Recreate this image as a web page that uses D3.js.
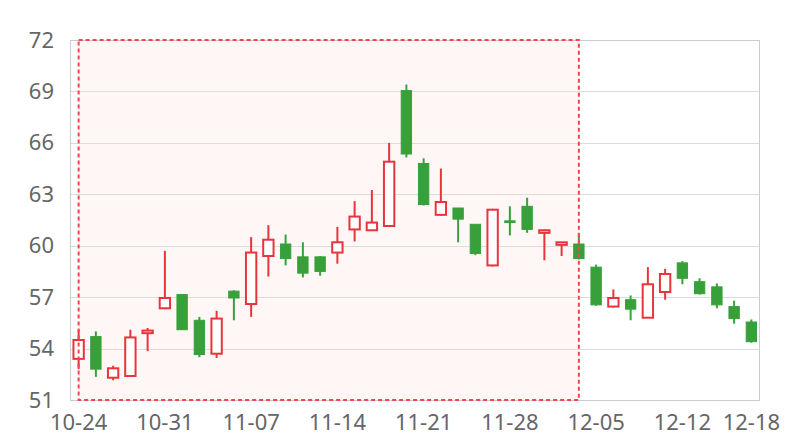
<!DOCTYPE html>
<html>
<head>
<meta charset="utf-8">
<script src="https://cdn.jsdelivr.net/npm/d3@7"></script>
<style>
  html, body { margin: 0; padding: 0; background: #fff; }
  svg { display: block; }
</style>
</head>
<body>
<svg id="chart" width="800" height="440"></svg>
<script>
const dates = ["10-24","10-25","10-26","10-27","10-28",
  "10-31","11-01","11-02","11-03","11-04",
  "11-07","11-08","11-09","11-10","11-11",
  "11-14","11-15","11-16","11-17","11-18",
  "11-21","11-22","11-23","11-24","11-25",
  "11-28","11-29","11-30","12-01","12-02",
  "12-05","12-06","12-07","12-08","12-09",
  "12-12","12-13","12-14","12-15","12-18"];
const opens  = [53.4,54.7,52.3,52.4,54.9,56.35,57.15,55.65,53.7,57.35,
  56.6,59.4,60.1,59.35,59.35,59.6,60.95,60.9,61.15,69.05,
  64.8,61.8,62.2,61.25,58.85,61.45,62.3,60.75,60.05,60.1,
  58.75,56.45,56.85,55.8,57.3,59.0,57.9,57.6,56.45,55.55];
const closes = [54.5,52.8,52.85,54.65,55.05,56.95,55.1,53.65,55.75,56.95,
  59.6,60.35,59.25,58.4,58.5,60.2,61.7,61.35,64.9,65.35,
  62.4,62.55,61.55,59.55,62.1,61.35,60.95,60.9,60.2,59.25,
  56.55,56.95,56.3,57.75,58.35,58.1,57.2,56.55,55.75,54.4];
const highs  = [55.1,55.0,53.0,55.1,55.2,59.7,57.15,55.85,56.2,57.4,
  60.5,61.2,60.65,60.2,59.4,61.1,62.6,63.25,66.0,69.4,
  65.1,64.5,62.2,61.25,62.15,62.3,62.8,60.95,60.2,60.7,
  58.9,57.45,57.1,58.75,58.65,59.1,58.1,57.8,56.8,55.7];
const lows   = [52.8,52.35,52.15,52.4,53.85,56.3,55.1,53.5,53.45,55.65,
  55.85,58.2,58.85,58.15,58.25,58.95,60.25,60.9,61.15,65.15,
  62.35,61.75,60.2,59.45,58.8,60.6,60.75,59.15,59.4,59.2,
  56.5,56.4,55.65,55.8,56.85,57.75,57.15,56.35,55.45,54.35];
const yTicks = [51,54,57,60,63,66,69,72];
const xTickIdx = [0,5,10,15,20,25,30,35,39];
const markStart = "10-24", markEnd = "12-02";

const candles = dates.map((d,i)=>({date:d, o:opens[i], c:closes[i], h:highs[i], l:lows[i]}));

const W = 800, H = 440;
const m = {left:70, right:40, top:40, bottom:40};
const svg = d3.select("#chart");
const x = d3.scaleBand().domain(dates).range([m.left, W - m.right]).paddingInner(0).paddingOuter(0);
const y = d3.scaleLinear().domain([51,72]).range([H - m.bottom, m.top]);
const cx = d => x(d) + x.bandwidth()/2;

const UP = "#e8353c", DOWN = "#38a03a", TXT = "#666", GRID = "#dcdcdc";
const FONT = "'Noto Sans', 'Open Sans', sans-serif";

// mark area fill
const mx0 = cx(markStart), mx1 = cx(markEnd);
svg.append("rect").attr("x", mx0).attr("y", y(72)).attr("width", mx1 - mx0)
  .attr("height", y(51) - y(72)).attr("fill", "#fff6f6");

// grid lines
svg.append("g").selectAll("line").data(yTicks).join("line")
  .attr("x1", m.left).attr("x2", W - m.right)
  .attr("y1", d => Math.round(y(d)) + 0.5).attr("y2", d => Math.round(y(d)) + 0.5)
  .attr("stroke", GRID).attr("stroke-width", 1);

// frame
svg.append("rect").attr("x", m.left + 0.5).attr("y", Math.round(y(72)) + 0.5)
  .attr("width", W - m.right - m.left - 1).attr("height", y(51) - y(72))
  .attr("fill", "none").attr("stroke", "#cccccc").attr("stroke-width", 1);

// y axis labels
const yAxis = d3.axisLeft(y).tickValues(yTicks).tickSize(0).tickPadding(16).tickFormat(d3.format("d"));
const gy = svg.append("g").attr("transform", `translate(${m.left},0)`).call(yAxis);
gy.select(".domain").remove();
gy.selectAll("text").attr("fill", TXT).style("font-family", FONT).style("font-size", "22px");

// x axis labels
const xAxis = d3.axisBottom(x).tickValues(xTickIdx.map(i => dates[i])).tickSize(0).tickPadding(14);
const gx = svg.append("g").attr("transform", `translate(0,${H - m.bottom})`).call(xAxis);
gx.select(".domain").remove();
gx.selectAll("text").attr("fill", TXT).style("font-family", FONT).style("font-size", "22px");

// candles
const bw = x.bandwidth() * 0.6;
const g = svg.append("g");
const cg = g.selectAll("g.c").data(candles).join("g").attr("class","c");
cg.append("line")
  .attr("x1", d => cx(d.date)).attr("x2", d => cx(d.date))
  .attr("y1", d => y(d.h)).attr("y2", d => y(d.l))
  .attr("stroke", d => d.c >= d.o ? UP : DOWN).attr("stroke-width", 2);
cg.append("rect")
  .attr("x", d => cx(d.date) - bw/2)
  .attr("width", bw)
  .attr("y", d => y(Math.max(d.o, d.c)))
  .attr("height", d => Math.max(1, Math.abs(y(d.o) - y(d.c))))
  .attr("fill", d => d.c >= d.o ? "#fff" : DOWN)
  .attr("stroke", d => d.c >= d.o ? UP : DOWN)
  .attr("stroke-width", d => d.c >= d.o ? 2 : 1);

// mark area dashed border
svg.append("rect").attr("x", mx0).attr("y", y(72)).attr("width", mx1 - mx0)
  .attr("height", y(51) - y(72)).attr("fill", "none")
  .attr("stroke", "#f0474b").attr("stroke-width", 2).attr("stroke-dasharray", "4,3");
</script>
</body>
</html>
